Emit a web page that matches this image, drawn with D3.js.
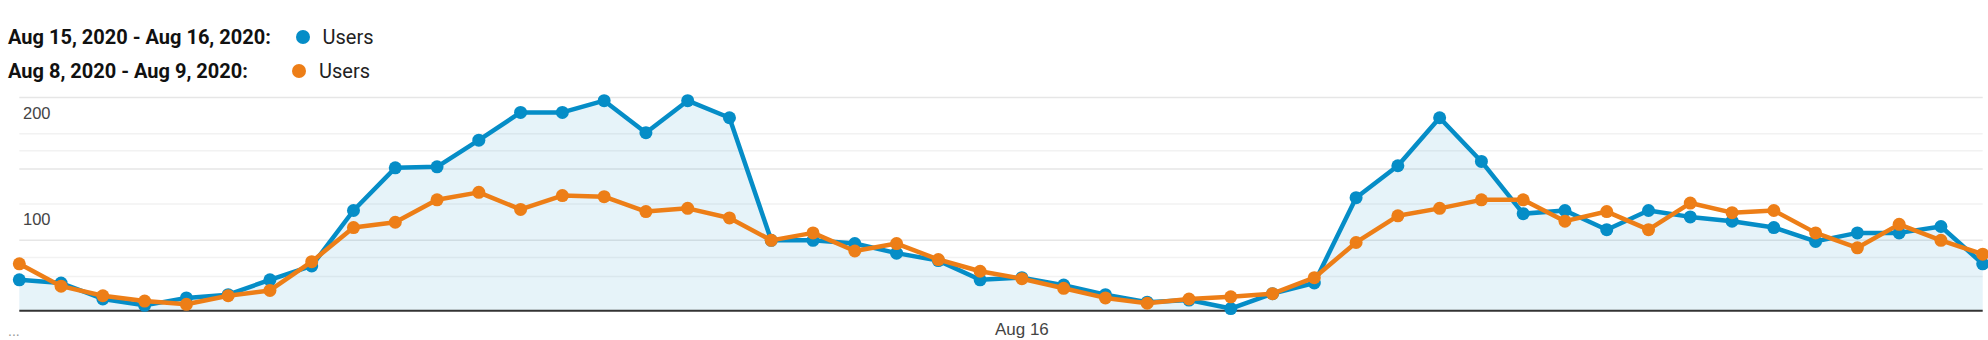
<!DOCTYPE html>
<html>
<head>
<meta charset="utf-8">
<script src="https://cdn.jsdelivr.net/npm/d3@7"></script>
<style>
  html, body { margin: 0; padding: 0; background: #fff; }
  svg { display: block; }
</style>
</head>
<body>
<svg id="chart" width="1988" height="340"></svg>
<script>
// Hourly users across two days, current period vs. the previous week
const hours = d3.range(48);
const currentUsers = [29, 26, 11, 5, 12, 15, 29, 42, 94, 134, 135, 160, 186, 186, 197, 167, 197, 181,
  66, 66, 63, 54, 47, 29, 31, 24, 15, 8, 10, 2, 16, 26,
  106, 136, 181, 140, 91, 94, 76, 94, 88, 84, 78, 65, 73, 73, 79, 44];
const previousUsers = [44, 23, 14, 9, 6, 14, 19, 46, 78, 83, 104, 111, 95, 108, 107, 93, 96, 87,
  66, 73, 56, 63, 48, 37, 30, 21, 12, 7, 11, 13, 16, 31,
  64, 89, 96, 104, 104, 84, 93, 76, 101, 92, 94, 73, 59, 81, 66, 53];
const seriesLabels = ["Aug 15, 2020 - Aug 16, 2020:", "Aug 8, 2020 - Aug 9, 2020:"];
const seriesName = "Users";
const yTickLabels = [100, 200];
const gridValues = [32, 50, 66, 100, 133, 150, 166, 200];
const strongGrid = [66, 133, 200];
const xTickIndex = [24];
const xTickLabels = ["Aug 16"];

const BLUE = "#058dc7", ORANGE = "#ed7e17";

const svg = d3.select("#chart");
const plotLeft = 19.3, plotRight = 1982.7, plotTop = 97.5, plotBottom = 310.7;

const x = d3.scaleLinear().domain([0, 47]).range([plotLeft, plotRight]);
const y = d3.scaleLinear().domain([0, 200]).range([plotBottom, plotTop]);

// Gridlines
svg.append("g").selectAll("line").data(gridValues).join("line")
  .attr("x1", plotLeft).attr("x2", plotRight)
  .attr("y1", d => y(d)).attr("y2", d => y(d))
  .attr("stroke", d => strongGrid.includes(d) ? "#e6e6e6" : "#f2f2f2")
  .attr("stroke-width", 1.5);

// Area under the current period
svg.append("path")
  .datum(hours)
  .attr("d", d3.area().x(i => x(i)).y0(plotBottom).y1(i => y(currentUsers[i])))
  .attr("fill", BLUE).attr("fill-opacity", 0.1);

// Baseline
svg.append("line")
  .attr("x1", plotLeft).attr("x2", plotRight)
  .attr("y1", plotBottom).attr("y2", plotBottom)
  .attr("stroke", "#333").attr("stroke-width", 2);

// Y axis labels (hanging below their gridline)
svg.append("g").selectAll("text").data(yTickLabels).join("text")
  .attr("x", 23).attr("y", d => y(d) + 21)
  .attr("font-family", "Liberation Sans, Arial, sans-serif")
  .attr("font-size", 16.5).attr("fill", "#444")
  .text(d => d);

// X axis label
svg.append("g").selectAll("text").data(xTickIndex).join("text")
  .attr("x", d => x(d)).attr("y", 334.5)
  .attr("text-anchor", "middle")
  .attr("font-family", "Liberation Sans, Arial, sans-serif")
  .attr("font-size", 17).attr("fill", "#444")
  .text((d, i) => xTickLabels[i]);

svg.append("text").attr("x", 8).attr("y", 336)
  .attr("font-family", "Liberation Sans, Arial, sans-serif")
  .attr("font-size", 14).attr("fill", "#999").text("...");

// Series lines and points
function drawSeries(values, color) {
  const line = d3.line().x(i => x(i)).y(i => y(values[i]));
  svg.append("path").datum(hours)
    .attr("d", line).attr("fill", "none")
    .attr("stroke", color).attr("stroke-width", 4.5)
    .attr("stroke-linejoin", "round");
  svg.append("g").selectAll("circle").data(hours).join("circle")
    .attr("cx", i => x(i)).attr("cy", i => y(values[i]))
    .attr("r", 6.5).attr("fill", color);
}
drawSeries(currentUsers, BLUE);
drawSeries(previousUsers, ORANGE);

// Legend
const legend = svg.append("g");
const rows = [
  { label: seriesLabels[0], color: BLUE, y: 44, dot: 303, name: 322.5 },
  { label: seriesLabels[1], color: ORANGE, y: 78, dot: 299, name: 319 }
];
rows.forEach(r => {
  legend.append("text").attr("x", 8).attr("y", r.y)
    .attr("font-family", "Roboto, sans-serif").attr("font-weight", "bold")
    .attr("font-size", 20).attr("fill", "#111").text(r.label);
  legend.append("circle").attr("cx", r.dot).attr("cy", r.y - 7).attr("r", 7).attr("fill", r.color);
  legend.append("text").attr("x", r.name).attr("y", r.y)
    .attr("font-family", "Roboto, sans-serif")
    .attr("font-size", 20).attr("fill", "#222").text(seriesName);
});
</script>
</body>
</html>
